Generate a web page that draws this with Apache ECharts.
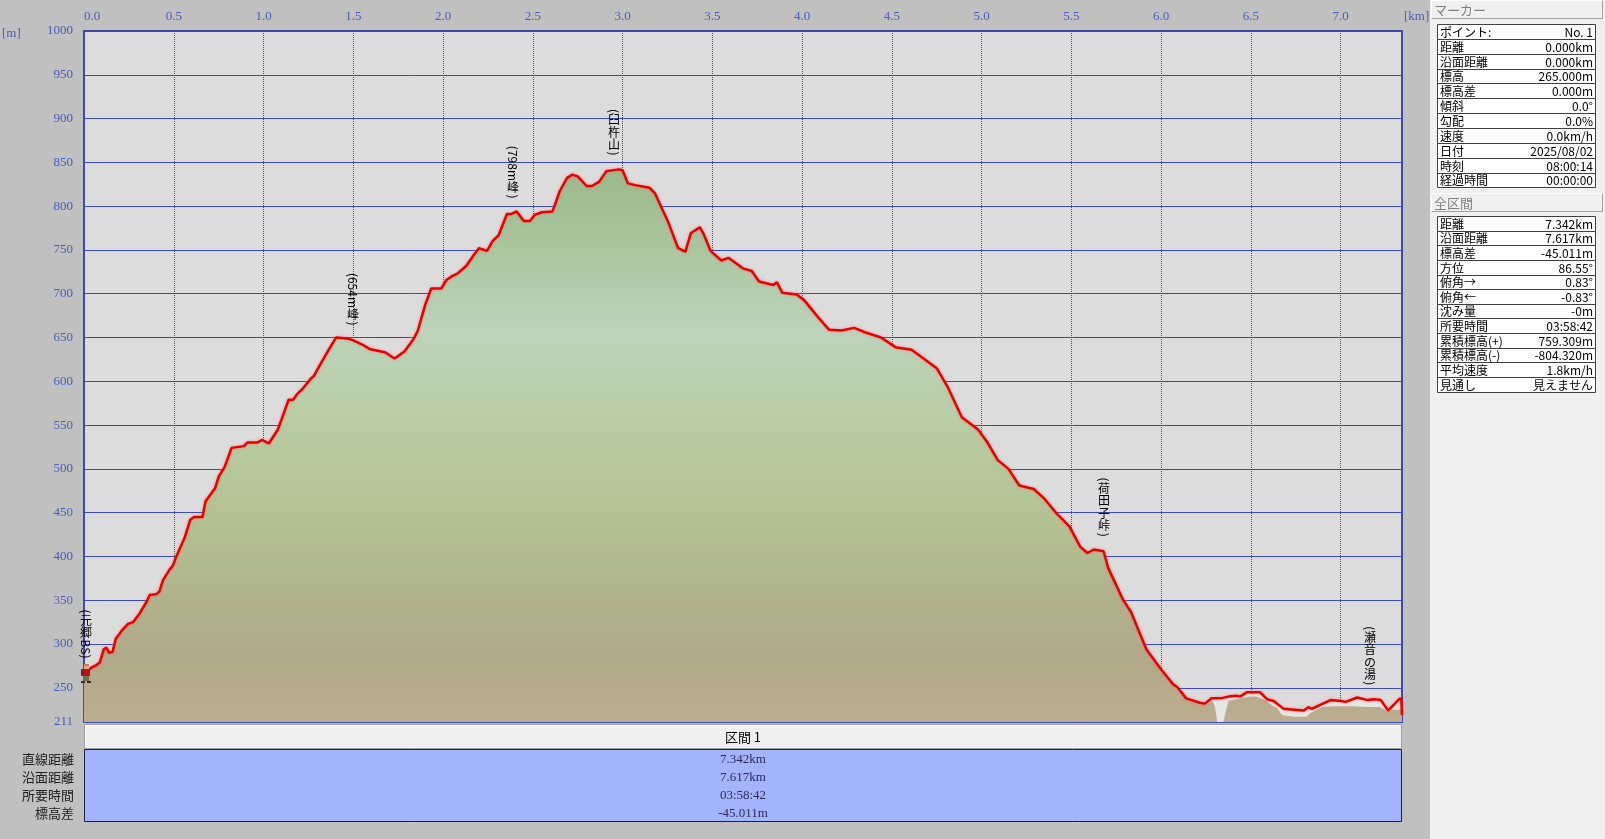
<!DOCTYPE html>
<html><head><meta charset="utf-8">
<script src="https://cdn.jsdelivr.net/npm/echarts@6/dist/echarts.min.js"></script>
<style>html,body{margin:0;padding:0;background:#c0c0c0;}#c{width:1605px;height:839px;}</style>
</head><body><div id="c"></div>
<script>
// ---- data ----
const trackKm = [0.000,0.041,0.069,0.088,0.110,0.125,0.140,0.159,0.177,0.209,0.245,0.273,0.310,0.348,0.366,0.403,0.420,0.440,0.477,0.496,0.510,0.538,0.560,0.592,0.613,0.660,0.677,0.709,0.730,0.750,0.783,0.822,0.890,0.910,0.965,0.990,1.030,1.080,1.110,1.140,1.165,1.190,1.220,1.263,1.280,1.310,1.357,1.404,1.465,1.497,1.550,1.590,1.680,1.700,1.730,1.785,1.838,1.860,1.900,1.934,1.990,2.020,2.050,2.080,2.130,2.170,2.200,2.245,2.276,2.310,2.356,2.380,2.410,2.450,2.485,2.510,2.550,2.610,2.650,2.690,2.720,2.750,2.800,2.830,2.870,2.910,2.980,3.000,3.030,3.070,3.150,3.180,3.220,3.250,3.310,3.350,3.380,3.430,3.450,3.490,3.550,3.590,3.670,3.720,3.760,3.840,3.860,3.890,3.970,4.010,4.090,4.150,4.220,4.290,4.350,4.440,4.520,4.610,4.690,4.750,4.810,4.890,4.980,5.030,5.090,5.150,5.210,5.290,5.350,5.410,5.490,5.550,5.590,5.625,5.680,5.705,5.787,5.834,5.880,5.918,5.993,6.067,6.090,6.140,6.216,6.244,6.280,6.330,6.375,6.420,6.440,6.478,6.550,6.590,6.627,6.683,6.739,6.795,6.820,6.840,6.880,6.944,7.000,7.028,7.093,7.150,7.187,7.224,7.265,7.298,7.325,7.338,7.342];
const trackElev = [265,273,276,279,294,296,290,291,306,315,323,325,335,348,356,357,360,373,385,390,398,411,421,442,445,445,463,472,478,491,502,524,526,530,530,533,529,545,562,579,579,586,592,603,606,617,634,650,649,647,642,637,633,630,626,634,649,658,687,706,706,716,720,723,732,744,752,749,760,767,791,791,794,783,783,790,793,794,817,832,836,834,823,823,828,840,842,841,826,824,821,815,797,784,752,748,769,776,769,749,738,741,729,726,714,710,713,701,699,693,673,659,658,661,656,650,639,636,624,615,594,559,545,531,510,500,481,477,466,451,434,411,404,408,406,387,351,336,313,294,273,254,251,238,233,232,238,238,240,241,240,245,245,237,235,226,225,224,228,226,230,236,235,234,239,236,237,236,224,231,237,238,219];
const terrainTailKm = [6.280,6.300,6.313,6.347,6.375,6.420,6.496,6.530,6.580,6.617,6.645,6.673,6.739,6.776,6.810,6.830,6.897,6.960,7.060,7.150,7.220,7.260,7.298,7.342];
const terrainTailElev = [237,229,211,211,235,237,240,240,236,230,227,219,217,217,217,221,228,229,229,228,228,223,225,225];

const waypointNames = ['(元郷BS)','(654m峰)','(798m峰)','(臼杵山)','(荷田子峠)','(瀬音の湯)'];
const waypointKm = [0.01,1.496,2.391,2.95,5.68,7.163];

const markerTitle = 'マーカー';
const markerLabels = ['ポイント:','距離','沿面距離','標高','標高差','傾斜','勾配','速度','日付','時刻','経過時間'];
const markerValues = ['No. 1','0.000km','0.000km','265.000m','0.000m','0.0°','0.0%','0.0km/h','2025/08/02','08:00:14','00:00:00'];
const totalTitle = '全区間';
const totalLabels = ['距離','沿面距離','標高差','方位','俯角→','俯角←','沈み量','所要時間','累積標高(+)','累積標高(-)','平均速度','見通し'];
const totalValues = ['7.342km','7.617km','-45.011m','86.55°','0.83°','-0.83°','-0m','03:58:42','759.309m','-804.320m','1.8km/h','見えません'];
const sectionTitle = '区間 1';
const sectionLabels = ['直線距離','沿面距離','所要時間','標高差'];
const sectionValues = ['7.342km','7.617km','03:58:42','-45.011m'];

// ---- chart ----
const chart = echarts.init(document.getElementById('c'), null, {renderer:'canvas'});
const track = trackKm.map((k,i)=>[k, trackElev[i]]);
const terrain = track.filter(p=>p[0]<6.27).concat(terrainTailKm.map((k,i)=>[k, terrainTailElev[i]]));
const AX = '#4b5bb8';
const CJK = '"Noto Sans CJK JP"';
const gy = y => (y-160)/(722-160);
const grad = new echarts.graphic.LinearGradient(0,160,0,722,[
  {offset:0, color:'#99b889'},
  {offset:gy(240), color:'#a9c49c'},
  {offset:gy(330), color:'#bcd3bb'},
  {offset:gy(430), color:'#b8cca2'},
  {offset:gy(520), color:'#b3c292'},
  {offset:gy(600), color:'#b0b28c'},
  {offset:gy(660), color:'#b1a989'},
  {offset:1, color:'#bcae8e'}
], true);

chart.setOption({
  backgroundColor:'#c0c0c0',
  animation:false,
  grid:{left:84, top:31, width:1318, height:691, show:true, backgroundColor:'#dcdcdc', borderColor:'#4048a8', borderWidth:2},
  xAxis:{type:'value', position:'top', min:0, max:7.342, interval:0.5,
    axisLine:{show:false}, axisTick:{show:false},
    axisLabel:{color:AX, fontFamily:'Liberation Serif', fontSize:13, margin:8, alignMinLabel:'left',
      formatter:v=>Math.abs(v/0.5-Math.round(v/0.5))<1e-6 ? v.toFixed(1) : ''},
    splitLine:{show:true, lineStyle:{color:'#3848c0', type:'dotted', width:1}}},
  yAxis:{type:'value', min:211, max:1000, splitNumber:16, minInterval:50, maxInterval:50,
    axisLine:{show:false}, axisTick:{show:false},
    axisLabel:{color:AX, fontFamily:'Liberation Serif', fontSize:13, margin:11, formatter:v=>String(Math.round(v))},
    splitLine:{show:true, lineStyle:{color:'#3a4ab8', width:1}}},
  series:[
    {type:'line', data:track, symbol:'none', silent:true, lineStyle:{width:0, opacity:0}, areaStyle:{color:'#e6e6e6', origin:'start', opacity:1}, z:1},
    {type:'line', data:terrain, symbol:'none', silent:true, lineStyle:{width:0, opacity:0}, areaStyle:{color:grad, origin:'start', opacity:1}, z:2},
    {type:'line', data:track, symbol:'none', silent:true, lineStyle:{color:'#e60000', width:2.5, shadowColor:'rgba(255,90,90,0.6)', shadowBlur:3}, z:3}
  ]
});

// ---- annotations ----
const LFONT = '12px ' + CJK;
const mc = document.createElement('canvas').getContext('2d');
mc.font = LFONT;
function elevAt(k){
  for (let i=1;i<trackKm.length;i++){
    if (trackKm[i]>=k){ const t=(k-trackKm[i-1])/(trackKm[i]-trackKm[i-1]); return trackElev[i-1]+t*(trackElev[i]-trackElev[i-1]); }
  }
  return trackElev[trackElev.length-1];
}
const G = [];
waypointNames.forEach((name,idx)=>{
  const k = waypointKm[idx];
  const [px,py] = chart.convertToPixel({gridIndex:0},[k, elevAt(k)]);
  const runs=[]; let cur='';
  for (const ch of name){
    if (ch.charCodeAt(0)<128) cur+=ch;
    else { if (cur){runs.push({t:cur,rot:true}); cur='';} runs.push({t:ch,rot:false}); }
  }
  if (cur) runs.push({t:cur,rot:true});
  runs.forEach(r=>{ r.len = r.rot ? mc.measureText(r.t).width + 1 : 12.5; });
  const total = runs.reduce((s,r)=>s+r.len,0);
  let y = py - 14 - total;
  runs.forEach(r=>{
    G.push({type:'text', x:Math.round(px), y:y+r.len/2, rotation:r.rot?-Math.PI/2:0, z:100,
      style:{text:r.t, font:LFONT, fill:'#000', align:'center', verticalAlign:'middle'}});
    y += r.len;
  });
});
// start marker figure
{
  const [px,py] = chart.convertToPixel({gridIndex:0},[trackKm[0], trackElev[0]]);
  const x = Math.round(px), y = Math.round(py);
  const R=(a,b,w,h,c)=>G.push({type:'rect', z:101, shape:{x:x+a,y:y+b,width:w,height:h}, style:{fill:c}});
  R(0,-11,5,2,'#c08060'); R(0,-9,5,3,'#e0a888');
  R(-3,-6,9,7,'#b01818'); R(-3,-5,2,4,'#801010');
  R(-1,1,6,5,'#7a6a50'); R(-3,6,4,2,'#303030'); R(3,6,4,2,'#303030');
}

// ---- right panel ----
G.push({type:'rect', z:50, shape:{x:1430,y:0,width:175,height:839}, style:{fill:'#f0f0f0'}});
function header(y, text){
  G.push({type:'rect', z:51, shape:{x:1431.5,y:y+0.5,width:171,height:18}, style:{fill:'#f0f0f0', stroke:'#a0a0a0', lineWidth:1}});
  G.push({type:'polyline', z:52, shape:{points:[[1431.5,y+18.5],[1431.5,y+0.5],[1602.5,y+0.5]]}, style:{stroke:'#ffffff', lineWidth:1, fill:null}});
  G.push({type:'text', z:53, x:1434, y:y+10, style:{text:text, font:'13px '+CJK, fill:'#808080', verticalAlign:'middle'}});
}
function table(y0, rowH, labels, values){
  labels.forEach((l,i)=>{
    const y = Math.round(y0+i*rowH)+0.5;
    const h = Math.round(y0+(i+1)*rowH)-Math.round(y0+i*rowH);
    G.push({type:'rect', z:51, shape:{x:1437.5,y:y,width:158,height:h}, style:{fill:'#ffffff', stroke:'#404040', lineWidth:1}});
    G.push({type:'text', z:53, x:1440, y:y+h/2, style:{text:l, font:'12px '+CJK, fill:'#000', verticalAlign:'middle'}});
    G.push({type:'text', z:53, x:1593, y:y+h/2, style:{text:values[i], font:'12px '+CJK, fill:'#000', align:'right', verticalAlign:'middle'}});
  });
}
header(0, markerTitle);
table(24, 14.85, markerLabels, markerValues);
header(193, totalTitle);
table(216, 14.64, totalLabels, totalValues);

// axis unit labels
G.push({type:'text', z:60, x:2, y:34, style:{text:'[m]', font:'13px "Liberation Serif"', fill:AX, verticalAlign:'middle'}});
G.push({type:'text', z:60, x:1404, y:17, style:{text:'[km]', font:'13px "Liberation Serif"', fill:AX, verticalAlign:'middle'}});

// ---- bottom section table ----
G.push({type:'rect', z:40, shape:{x:84.5,y:724.5,width:1317,height:24}, style:{fill:'#f0f0f0', stroke:'#a0a0a0', lineWidth:1}});
G.push({type:'polyline', z:41, shape:{points:[[85.5,747.5],[85.5,725.5],[1400.5,725.5]]}, style:{stroke:'#ffffff', lineWidth:1, fill:null}});
G.push({type:'text', z:42, x:743, y:737, style:{text:sectionTitle, font:'13px '+CJK, fill:'#000', align:'center', verticalAlign:'middle'}});
G.push({type:'rect', z:40, shape:{x:84.5,y:749.5,width:1317,height:72}, style:{fill:'#a4b4fc', stroke:'#202040', lineWidth:1}});
sectionLabels.forEach((l,i)=>{
  const y = 759.5 + i*18;
  G.push({type:'text', z:42, x:74, y:y, style:{text:l, font:'13px '+CJK, fill:'#202020', align:'right', verticalAlign:'middle'}});
  G.push({type:'text', z:42, x:743, y:y, style:{text:sectionValues[i], font:'13px "Liberation Serif"', fill:'#2a2a58', align:'center', verticalAlign:'middle'}});
});

chart.setOption({graphic:{elements:G}});
</script>
</body></html>
